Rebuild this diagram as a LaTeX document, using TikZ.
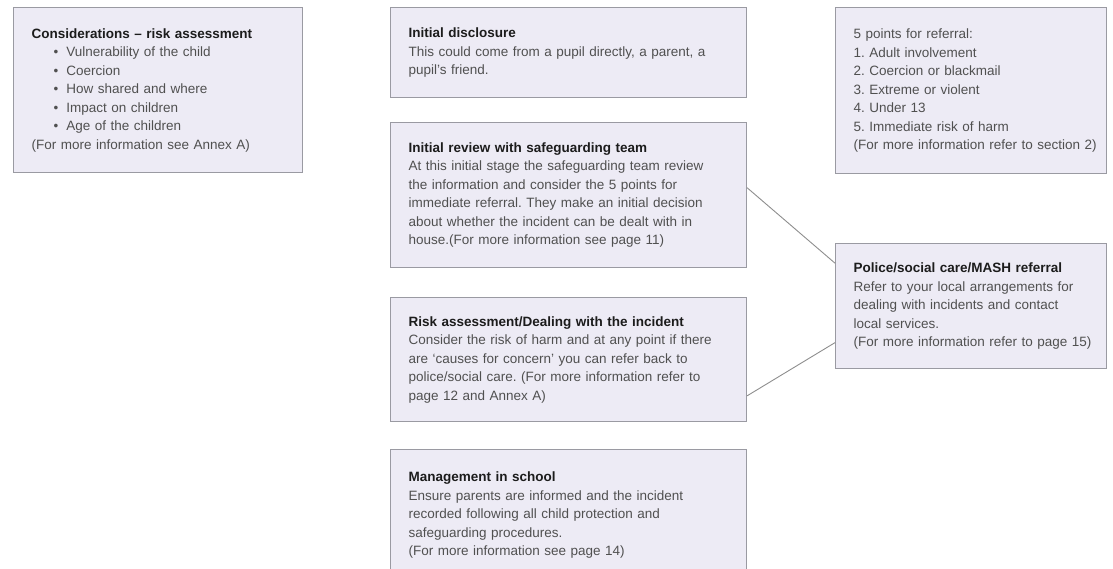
\documentclass[tikz,border=0pt]{standalone}
\usepackage{fontspec}
\setmainfont{Liberation Sans}
\usetikzlibrary{calc}
\frenchspacing

\definecolor{boxfill}{HTML}{EDEBF5}
\definecolor{boxline}{HTML}{9A9AA2}
\definecolor{bodygrey}{HTML}{505050}
\definecolor{titleblack}{HTML}{1C1C1C}
\definecolor{linkgrey}{HTML}{8E8E8E}

\newcommand{\boxtitle}[1]{{\bfseries\color{titleblack}#1}}
\newcommand{\bul}{\hspace*{22pt}\textbullet\hspace{8pt}}

\tikzset{
    panel/.style={draw=boxline, fill=boxfill, line width=1.1pt, anchor=north west, align=left,
        inner xsep=18pt, text=bodygrey, font={\fontsize{13.5}{18.5}\selectfont}},
    link/.style={draw=linkgrey, line width=0.9pt}
}

\begin{document}
\begin{tikzpicture}[x=1pt, y=-1pt]
        \path[use as bounding box, clip] (0,0) rectangle (1113,569);
        \fill[white] (0,0) rectangle (1113,569);
        \begin{scope}[every node/.style={panel}]
            \node [text width=253pt, minimum width=289pt, minimum height=165pt] (consider) at (13,7)
                {\boxtitle{Considerations – risk assessment}\\
                 \bul Vulnerability of the child\\
                 \bul Coercion\\
                 \bul How shared and where\\
                 \bul Impact on children\\
                 \bul Age of the children\\
                 (For more information see Annex A)};
            \node [text width=320pt, minimum width=356pt, minimum height=90pt] (disclose) at (390,7)
                {\boxtitle{Initial disclosure}\\
                 This could come from a pupil directly, a parent, a\\
                 pupil’s friend.};
            \node [text width=320pt, minimum width=356pt, minimum height=145pt] (review) at (390,122)
                {\boxtitle{Initial review with safeguarding team}\\
                 At this initial stage the safeguarding team review\\
                 the information and consider the 5 points for\\
                 immediate referral. They make an initial decision\\
                 about whether the incident can be dealt with in\\
                 house.(For more information see page 11)};
            \node [text width=320pt, minimum width=356pt, minimum height=124pt] (risk) at (390,297)
                {\boxtitle{Risk assessment/Dealing with the incident}\\
                 Consider the risk of harm and at any point if there\\
                 are ‘causes for concern’ you can refer back to\\
                 police/social care. (For more information refer to\\
                 page 12 and Annex A)};
            \node [text width=320pt, minimum width=356pt, minimum height=131pt] (school) at (390,449)
                {\boxtitle{Management in school}\\
                 Ensure parents are informed and the incident\\
                 recorded following all child protection and\\
                 safeguarding procedures.\\
                 (For more information see page 14)};
            \node [text width=235pt, minimum width=271pt, minimum height=166pt] (points) at (835,7)
                {5 points for referral:\\
                 1. Adult involvement\\
                 2. Coercion or blackmail\\
                 3. Extreme or violent\\
                 4. Under 13\\
                 5. Immediate risk of harm\\
                 \mbox{(For more information refer to section 2)}};
            \node [text width=235pt, minimum width=271pt, minimum height=125pt] (police) at (835,243)
                {\boxtitle{Police/social care/MASH referral}\\
                 Refer to your local arrangements for\\
                 dealing with incidents and contact\\
                 local services.\\
                 \mbox{(For more information refer to page 15)}};
        \end{scope}
        \begin{scope}[every path/.style={link}]
            \path ($(review.north east)!0.45!(review.south east)$) -- ($(police.north west)!0.16!(police.south west)$);
            \path ($(risk.north east)!0.79!(risk.south east)$) -- ($(police.north west)!0.79!(police.south west)$);
        \end{scope}
    \end{tikzpicture}
\end{document}
